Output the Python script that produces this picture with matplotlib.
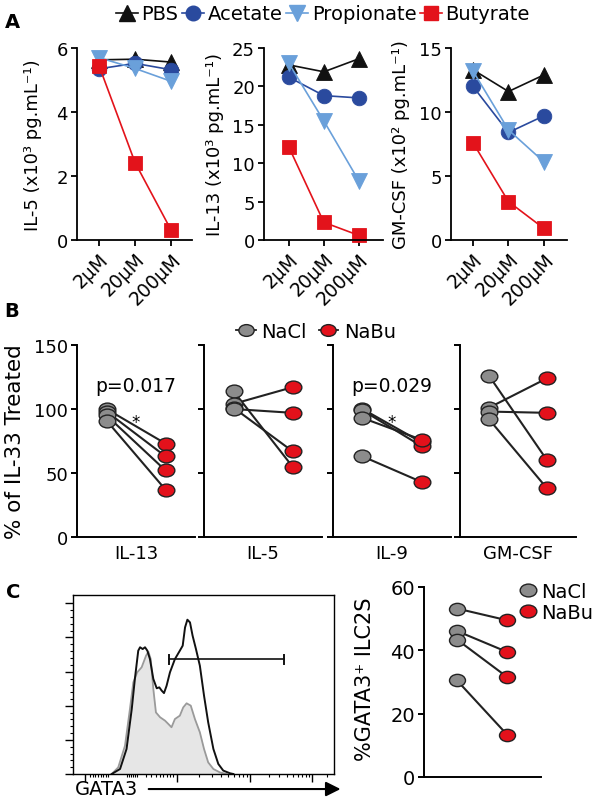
import matplotlib
matplotlib.use('Agg')
import matplotlib.pyplot as plt
import numpy as np
from matplotlib.lines import Line2D
from matplotlib.path import Path

plt.rcParams['font.family'] = ['DejaVu Sans']

# ---------------- data ----------------
conc = ['2µM', '20µM', '200µM']
treatments = ['PBS', 'Acetate', 'Propionate', 'Butyrate']

il5_pbs = [5.63, 5.65, 5.56]
il5_acetate = [5.35, 5.52, 5.32]
il5_propionate = [5.70, 5.36, 4.96]
il5_butyrate = [5.45, 2.42, 0.31]

il13_pbs = [22.8, 21.9, 23.6]
il13_acetate = [21.2, 18.8, 18.5]
il13_propionate = [23.0, 15.5, 7.7]
il13_butyrate = [12.1, 2.3, 0.6]

gmcsf_pbs = [13.3, 11.6, 12.9]
gmcsf_acetate = [12.0, 8.4, 9.7]
gmcsf_propionate = [13.2, 8.6, 6.1]
gmcsf_butyrate = [7.6, 3.0, 0.9]

b_names = ['IL-13', 'IL-5', 'IL-9', 'GM-CSF']
b_il13_nacl = [100, 98, 95, 91]
b_il13_nabu = [73, 63, 52, 37]
b_il5_nacl = [114, 104, 101, 100]
b_il5_nabu = [55, 117, 67, 97]
b_il9_nacl = [100, 99, 93, 63]
b_il9_nabu = [74, 71, 76, 43]
b_gmcsf_nacl = [126, 101, 98, 92]
b_gmcsf_nabu = [60, 124, 97, 38]
b_pvals = ['p=0.017', None, 'p=0.029', None]

c_nacl = [53.2, 46.1, 43.4, 30.5]
c_nabu = [49.5, 39.5, 31.6, 13.4]

# flow histogram (GATA3 intensity, arbitrary units; % of max)
hist_il33_x = [149, 181, 206, 226, 238, 251, 258, 268, 277, 286, 296, 309, 322, 332, 341, 350,
               360, 373, 392, 411, 422, 431, 440, 450, 460, 473, 488, 504, 520, 540, 559, 578,
               604, 617]
hist_il33_y = [0, 2.8, 14.0, 36.3, 53.1, 68.9, 70.8, 69.8, 70.8, 68.9, 64.2, 53.1, 47.9, 48.4,
               46.6, 45.2, 49.3, 56.8, 64.2, 68.9, 71.7, 81.9, 86.2, 84.7, 77.3, 69.8, 60.5, 43.8,
               28.9, 14.0, 5.6, 1.9, 0.4, 0]
hist_nabu_x = [149, 174, 200, 219, 232, 247, 264, 281, 290, 299, 309, 319, 335, 354, 367, 379,
               392, 411, 424, 437, 453, 469, 488, 504, 520, 540, 565, 591]
hist_nabu_y = [0, 3.7, 15.8, 36.3, 51.2, 56.8, 59.6, 66.1, 68.3, 64.2, 47.5, 34.4, 31.7, 29.8,
               27.9, 26.1, 30.7, 32.6, 37.2, 39.5, 38.2, 30.7, 23.3, 14.0, 6.5, 2.8, 0.9, 0]
gate = [370, 813, 64.2]

# ---------------- figure ----------------
W, H = 607, 812
fig = plt.figure(figsize=(W / 100, H / 100), dpi=100)


def rect(l, t, r, b):
    return [l / W, 1 - b / H, (r - l) / W, (b - t) / H]


def style(ax, lw=1.3):
    for s in ['top', 'right']:
        ax.spines[s].set_visible(False)
    for s in ['left', 'bottom']:
        ax.spines[s].set_linewidth(lw)
    ax.tick_params(width=lw, length=4.5, labelsize=13, pad=2)


colors = {'PBS': '#111111', 'Acetate': '#2a4a9e', 'Propionate': '#6aa0da', 'Butyrate': '#e3131b'}
markers = {'PBS': '^', 'Acetate': 'o', 'Propionate': 'v', 'Butyrate': 's'}
msizes = {'PBS': 11, 'Acetate': 10.5, 'Propionate': 11, 'Butyrate': 10}

# ellipse marker (wider than tall)
circ = Path.unit_circle()
ell = Path(circ.vertices * np.array([1.3, 1.0]), circ.codes)

grey = '#8c8c8c'
red = '#e3111b'
edge = '#222222'

# ---------------- panel A ----------------
a_rects = [(77, 49, 192, 241), (264, 49, 383, 241), (451, 49, 567, 241)]
a_data = [[il5_pbs, il5_acetate, il5_propionate, il5_butyrate],
          [il13_pbs, il13_acetate, il13_propionate, il13_butyrate],
          [gmcsf_pbs, gmcsf_acetate, gmcsf_propionate, gmcsf_butyrate]]
a_ylims = [(0, 6), (0, 25), (0, 15)]
a_yticks = [[0, 2, 4, 6], [0, 5, 10, 15, 20, 25], [0, 5, 10, 15]]
a_xlims = [(-0.61, 2.58), (-0.71, 2.69), (-0.62, 2.65)]
a_ylabels = ['IL-5 (x10³ pg.mL⁻¹)', 'IL-13 (x10³ pg.mL⁻¹)', 'GM-CSF (x10² pg.mL⁻¹)']
a_labx = [-0.30, -0.34, -0.35]

for i in range(3):
    ax = fig.add_axes(rect(*a_rects[i]))
    style(ax)
    x = np.arange(len(conc))
    for t, vals in zip(treatments, a_data[i]):
        ax.plot(x, vals, color=colors[t], lw=1.2, marker=markers[t], ms=msizes[t],
                mfc=colors[t], mec=colors[t], mew=0.6, clip_on=False)
    ax.set_ylim(*a_ylims[i])
    ax.set_yticks(a_yticks[i])
    ax.set_xlim(*a_xlims[i])
    ax.set_xticks(x)
    ax.set_xticklabels(conc, rotation=45, ha='right', rotation_mode='anchor', fontsize=13.5)
    ax.set_ylabel(a_ylabels[i], fontsize=13)
    ax.yaxis.set_label_coords(a_labx[i], 0.5)

handles = [Line2D([], [], color=colors[t], lw=1.2, marker=markers[t], ms=msizes[t],
                  mfc=colors[t], mec=colors[t]) for t in treatments]
fig.legend(handles, treatments, loc='center', bbox_to_anchor=(323 / W, 1 - 15 / H), ncol=4,
           frameon=False, fontsize=14, handlelength=1.1, handletextpad=0.2,
           columnspacing=0.2, borderaxespad=0)

# ---------------- panel B ----------------
b_rects = [(77, 346, 195, 538), (204, 346, 322, 538), (333, 346, 451, 538), (460, 346, 576, 538)]
b_nacl = [b_il13_nacl, b_il5_nacl, b_il9_nacl, b_gmcsf_nacl]
b_nabu = [b_il13_nabu, b_il5_nabu, b_il9_nabu, b_gmcsf_nabu]
for i in range(4):
    ax = fig.add_axes(rect(*b_rects[i]))
    style(ax, lw=1.4)
    for a, b in zip(b_nacl[i], b_nabu[i]):
        ax.plot([0, 1], [a, b], color=edge, lw=1.5, zorder=2)
    ax.plot(np.zeros(len(b_nacl[i])), b_nacl[i], ls='none', marker=ell, ms=12,
            mfc=grey, mec=edge, mew=1.0, zorder=3)
    ax.plot(np.ones(len(b_nabu[i])), b_nabu[i], ls='none', marker=ell, ms=12,
            mfc=red, mec=edge, mew=1.0, zorder=3)
    ax.set_xlim(-0.5, 1.5)
    ax.set_ylim(0, 150)
    ax.set_yticks([0, 50, 100, 150])
    ax.set_xticks([])
    if i > 0:
        ax.set_yticklabels([])
    else:
        ax.set_ylabel('% of IL-33 Treated', fontsize=15.5)
        ax.yaxis.set_label_coords(-0.44, 0.5)
    ax.set_xlabel(b_names[i], fontsize=13, labelpad=5)
    if b_pvals[i]:
        ax.text(0.5, 118, b_pvals[i], ha='center', va='center', fontsize=13.5)
        ax.text(0.5, 90, '*', ha='center', va='center', fontsize=12)

hb = [Line2D([], [], color=edge, lw=1.3, marker=ell, ms=11, mfc=grey, mec=edge),
      Line2D([], [], color=edge, lw=1.3, marker=ell, ms=11, mfc=red, mec=edge)]
fig.legend(hb, ['NaCl', 'NaBu'], loc='center', bbox_to_anchor=(316 / W, 1 - 332 / H), ncol=2,
           frameon=False, fontsize=14, handlelength=1.0, handletextpad=0.3,
           columnspacing=0.6, borderaxespad=0)

# ---------------- panel C: histogram ----------------
axh = fig.add_axes(rect(73, 596, 334, 775))
axh.fill_between(hist_nabu_x, hist_nabu_y, color='#e6e6e6', lw=0)
axh.plot(hist_nabu_x, hist_nabu_y, color='#9a9a9a', lw=1.3)
axh.plot(hist_il33_x, hist_il33_y, color='#111111', lw=1.4)
axh.plot([gate[0], gate[1]], [gate[2], gate[2]], color='#111111', lw=1.2)
axh.plot([gate[0], gate[0]], [gate[2] - 2.5, gate[2] + 2.5], color='#111111', lw=1.4)
axh.plot([gate[1], gate[1]], [gate[2] - 2.5, gate[2] + 2.5], color='#111111', lw=1.4)
axh.set_xlim(0, 1004)
axh.set_ylim(0, 100)
for s in axh.spines.values():
    s.set_linewidth(1.0)
axh.set_yticks([0, 19.07, 38.1, 57.2, 76.3, 95.3])
axh.set_yticks([v + k * 3.81 for v in [0, 19.07, 38.1, 57.2, 76.3] for k in range(1, 5)], minor=True)
axh.set_yticklabels([])
axh.set_xticks([46, 399, 681, 918])
decades = [(399, 282), (681, 237), (918, 200)]
xminor = [65, 76, 86, 96, 106, 116, 126, 136, 206, 214, 222, 230, 238, 245,
          280, 300, 318, 334, 348, 360, 372, 384]
for start, width in decades:
    for k in range(2, 10):
        v = start + np.log10(k) * width
        if v < 1000:
            xminor.append(v)
axh.set_xticks(xminor, minor=True)
axh.set_xticklabels([])
axh.tick_params(which='major', length=5.5, width=1.0)
axh.tick_params(which='minor', length=2.5, width=0.8)
fig.text(75 / W, 1 - 790 / H, 'GATA3', fontsize=14, va='center', ha='left')
axh.annotate('', xy=(1.025, -0.084), xytext=(0.29, -0.084), xycoords='axes fraction',
             arrowprops=dict(arrowstyle='-|>', lw=1.5, color='k', mutation_scale=22,
                             shrinkA=0, shrinkB=0), annotation_clip=False)

# ---------------- panel C: dot plot ----------------
axc = fig.add_axes(rect(424, 588, 541, 778))
style(axc, lw=1.4)
for a, b in zip(c_nacl, c_nabu):
    axc.plot([0, 1], [a, b], color=edge, lw=1.5, zorder=2)
axc.plot(np.zeros(len(c_nacl)), c_nacl, ls='none', marker=ell, ms=11.5,
         mfc=grey, mec=edge, mew=1.0, zorder=3)
axc.plot(np.ones(len(c_nabu)), c_nabu, ls='none', marker=ell, ms=11.5,
         mfc=red, mec=edge, mew=1.0, zorder=3)
axc.set_xlim(-0.66, 1.68)
axc.set_ylim(0, 60)
axc.set_yticks([0, 20, 40, 60])
axc.set_xticks([])
axc.tick_params(labelsize=14)
axc.set_ylabel('%GATA3⁺ ILC2S', fontsize=15)
axc.yaxis.set_label_coords(-0.42, 0.52)
hc = [Line2D([], [], ls='none', marker=ell, ms=12, mfc=grey, mec=edge),
      Line2D([], [], ls='none', marker=ell, ms=12, mfc=red, mec=edge)]
fig.legend(hc, ['NaCl', 'NaBu'], loc='upper left', bbox_to_anchor=(520 / W, 1 - 583 / H),
           frameon=False, fontsize=14, handlelength=0.8, handletextpad=0.3,
           labelspacing=0.1, borderaxespad=0, borderpad=0)

# panel letters
for lab, (x, y) in zip('ABC', [(12, 23), (12, 312), (13, 593)]):
    fig.text(x / W, 1 - y / H, lab, fontsize=14, fontweight='bold', ha='center', va='center')

fig.savefig('out.png', dpi=100)
